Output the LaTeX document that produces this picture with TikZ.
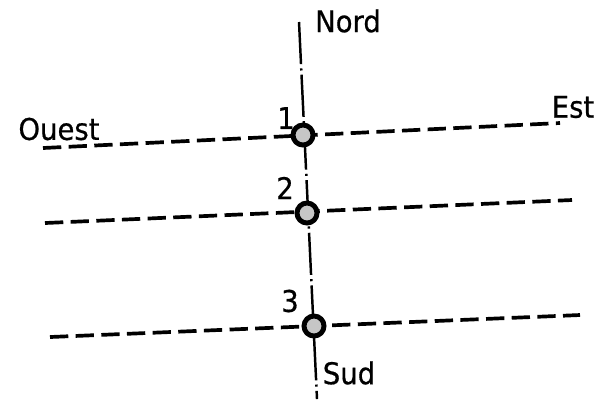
\documentclass[tikz,border=0pt]{standalone}
\usepackage{fontspec}
\setmainfont{DejaVu Sans}[FakeStretch=0.92,FakeBold=0.6]
\begin{document}
\begin{tikzpicture}[x=0.01cm,y=-0.01cm,
  rue/.style={line width=1.05pt,dash pattern=on 5.2pt off 2.1pt},
  axe/.style={line width=0.7pt,dash pattern=on 12pt off 1.2pt on 0.6pt off 1.2pt},
  puits/.style={circle,draw,line width=1.4pt,fill=gray!45,minimum size=0.2cm,inner sep=0pt},
  lab/.style={font=\fontsize{8.5}{10}\selectfont,inner sep=0pt}]
\useasboundingbox (0,0) rectangle (601,402);
\coordinate (N) at (299,22);
\coordinate (S) at (317,399);
\coordinate (w1) at (43,148);  \coordinate (e1) at (560,123);
\coordinate (w2) at (45,223);  \coordinate (e2) at (572,200);
\coordinate (w3) at (50,337);  \coordinate (e3) at (580,315);
\draw[axe] (N) -- (S);
\draw[rue] (w1) -- (e1);
\draw[rue] (w2) -- (e2);
\draw[rue] (w3) -- (e3);
\node[puits] (c1) at (303,135) {};
\node[puits] (c2) at (307,213) {};
\node[puits] (c3) at (314,326) {};
\node[lab] (nord) at (348,21) {Nord};
\node[lab] (sud) at (349,373) {Sud};
\node[lab] (ouest) at (59,129) {Ouest};
\node[lab] (est) at (573,107) {Est};
\node[lab] (n1) at (286,118) {1};
\node[lab] (n2) at (285,188) {2};
\node[lab] (n3) at (290,301) {3};
\end{tikzpicture}
\end{document}
